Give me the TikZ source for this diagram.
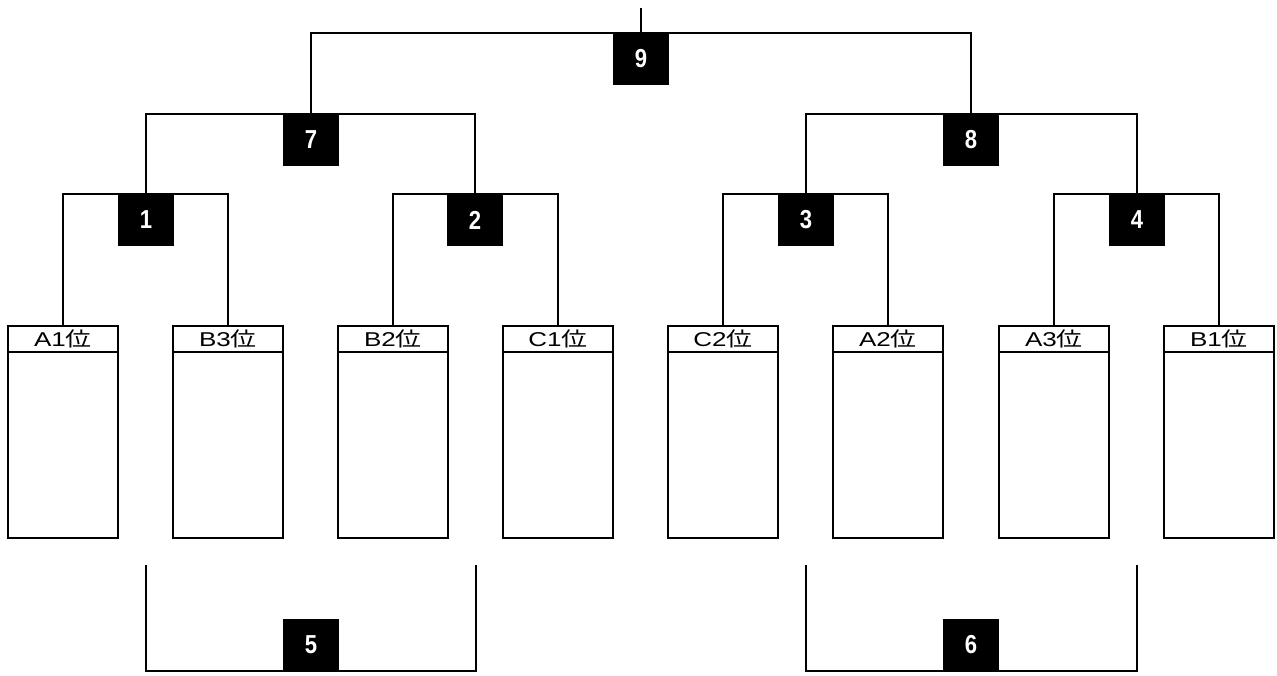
\documentclass[tikz,border=0pt]{standalone}
\usepackage{fontspec}
\setmainfont{Liberation Sans}
\newfontfamily\cjk{Noto Sans CJK JP}
\usepackage{graphicx}
\tikzset{
  line/.style={line width=2pt},
  num/.style={fill=black, text=white, minimum width=56pt, minimum height=52pt, inner sep=0pt, outer sep=0pt,
    font=\fontsize{26}{26}\selectfont\bfseries},
  head/.style={draw, line width=2pt, minimum width=110pt, minimum height=26pt, inner sep=0pt, outer sep=0pt,
    anchor=north west, font=\fontsize{20}{20}\selectfont},
}
\newcommand{\hd}[1]{\scalebox{1.3}[1]{#1{\cjk 位}}}
\newcommand{\nm}[1]{\scalebox{0.85}[1]{#1}}
\begin{document}
\begin{tikzpicture}[x=1pt,y=-1pt]
\useasboundingbox (0,0) rectangle (1277,675);
% player boxes
\foreach \n/\t/\x in {A1/A1/8, B3/B3/173, B2/B2/338, C1/C1/503, C2/C2/668, A2/A2/833, A3/A3/999, B1/B1/1164}{
  \node[head] (h\n) at (\x,326) {\hd{\t}};
  \draw[line] (h\n.south west) rectangle ++(110,186);
}
% match labels
\node[num, anchor=north] (m1) at (146,194) {\nm{1}};
\node[num, anchor=north] (m2) at (475,194) {\nm{2}};
\node[num, anchor=north] (m3) at (806,194) {\nm{3}};
\node[num, anchor=north] (m4) at (1137,194) {\nm{4}};
\node[num, anchor=north] (m7) at (311,114) {\nm{7}};
\node[num, anchor=north] (m8) at (971,114) {\nm{8}};
\node[num, anchor=north] (m9) at (641,33) {\nm{9}};
\node[num, anchor=south] (m5) at (311,671) {\nm{5}};
\node[num, anchor=south] (m6) at (971,671) {\nm{6}};
\coordinate (top) at (641,8);
\coordinate (c5l) at (146,565);
\coordinate (c5r) at (476,565);
\coordinate (c6l) at (806,565);
\coordinate (c6r) at (1137,565);
% first round
\draw[line] (hA1.north) |- (hB3.north |- m1.north) -- (hB3.north);
\draw[line] (hB2.north) |- (hC1.north |- m2.north) -- (hC1.north);
\draw[line] (hC2.north) |- (hA2.north |- m3.north) -- (hA2.north);
\draw[line] (hA3.north) |- (hB1.north |- m4.north) -- (hB1.north);
% second round
\draw[line] (m1.north) |- (m2.north |- m7.north) -- (m2.north);
\draw[line] (m3.north) |- (m4.north |- m8.north) -- (m4.north);
% final
\draw[line] (m7.north) |- (m8.north |- m9.north) -- (m8.north);
\draw[line] (top) -- (m9.north);
% lower brackets
\draw[line] (c5l) |- (c5r |- m5.south) -- (c5r);
\draw[line] (c6l) |- (c6r |- m6.south) -- (c6r);
\end{tikzpicture}
\end{document}
